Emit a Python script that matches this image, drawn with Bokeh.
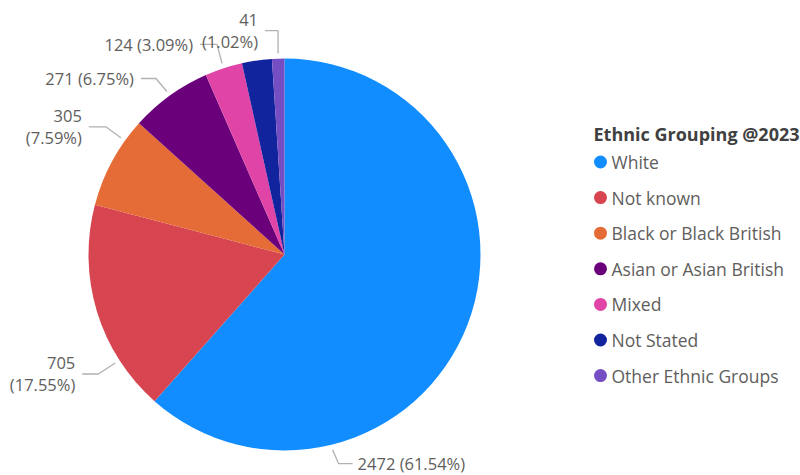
import math
from bokeh.plotting import figure
from bokeh.models import ColumnDataSource, Range1d
from bokeh.core.properties import value
from bokeh.embed import file_html
from bokeh.resources import INLINE

# ---------------- data ----------------
categories = ["White", "Not known", "Black or Black British", "Asian or Asian British",
              "Mixed", "Not Stated", "Other Ethnic Groups"]
counts = [2472, 705, 305, 271, 124, 99, 41]
colors = ["#118DFF", "#D64550", "#E66C37", "#6B007B", "#E044A7", "#12239E", "#744EC2"]
legend_title = "Ethnic Grouping @2023"

# ---------------- layout (screen px, y down) ----------------
W, H = 800, 475
CX, CY, R = 284, 254, 196
FONT = "Open Sans"
LABEL_COLOR = "#605E5C"
LEADER_COLOR = "#B3B0AD"
# per slice: (position within slice, elbow dx, elbow dy, horizontal run, split into two lines) or None
label_layout = [
    (0.75, 6, 14, 14, False),
    (0.25, -17, 11, -16, True),
    (0.76, -15, -11, -17, True),
    (0.50, -11, -13, -15, False),
    (0.50, -5, -19, -17, False),
    None,
    (0.50, 0, -23, -13, True),
]

p = figure(width=W, height=H, output_backend="svg", toolbar_location=None,
           x_range=Range1d(0, W), y_range=Range1d(-H, 0),
           min_border=0, x_axis_location=None, y_axis_location=None)
p.grid.visible = False
p.outline_line_color = None
p.background_fill_color = "white"
p.border_fill_color = "white"

total = sum(counts)
starts, ends, fr0, fr1 = [], [], [], []
cum = 0.0
for c in counts:
    f0 = cum / total
    cum += c
    f1 = cum / total
    fr0.append(f0)
    fr1.append(f1)
    starts.append(math.pi / 2 - 2 * math.pi * f0)
    ends.append(math.pi / 2 - 2 * math.pi * f1)

src = ColumnDataSource(dict(cat=categories, start=starts, end=ends, color=colors))
p.wedge(x=CX, y=-CY, radius=R, start_angle="start", end_angle="end",
        direction="clock", fill_color="color", line_color=None, source=src)

# ---------------- data labels ----------------
lx, ly, tx, ty, tt, ta = [], [], [], [], [], []
for i, lay in enumerate(label_layout):
    if lay is None:
        continue
    pos, edx, edy, run, split = lay
    frac = fr0[i] + pos * (fr1[i] - fr0[i])
    ang = 2 * math.pi * frac
    ax = CX + (R + 5) * math.sin(ang)
    ay = CY - (R + 5) * math.cos(ang)
    ex, ey = ax + edx, ay + edy
    fx = ex + run
    lx.append([ax, ex, fx])
    ly.append([-ay, -ey, -ey])
    pct = counts[i] / total * 100
    s1 = f"{counts[i]}"
    s2 = f"({pct:.2f}%)"
    align = "left" if run > 0 else "right"
    txx = fx + (5 if run > 0 else -7)
    if split:
        for s, dy in ((s1, -10.5), (s2, 10.5)):
            tx.append(txx); ty.append(-(ey + dy)); tt.append(s); ta.append(align)
    else:
        tx.append(txx); ty.append(-ey); tt.append(f"{s1} {s2}"); ta.append(align)

p.multi_line(xs=lx, ys=ly, line_color=LEADER_COLOR, line_width=1.3)
p.text(x="x", y="y", text="t", text_align="a",
       source=ColumnDataSource(dict(x=tx, y=ty, t=tt, a=ta)),
       text_baseline="middle", text_font=value(FONT), text_font_size="16.5px",
       text_color=LABEL_COLOR)

# ---------------- legend ----------------
LEG_X, LEG_Y0, LEG_STEP = 600, 161.5, 35.6
leg_y = [-(LEG_Y0 + k * LEG_STEP) for k in range(len(categories))]
p.scatter(x=[LEG_X] * len(categories), y=leg_y, size=13, marker="circle",
          fill_color=colors, line_color=None)
p.text(x=[LEG_X + 11] * len(categories), y=leg_y, text=categories,
       text_baseline="middle", text_align="left", text_font=value(FONT),
       text_font_size="17.5px", text_color=LABEL_COLOR)
p.text(x=[593], y=[-133], text=[legend_title], text_baseline="middle",
       text_align="left", text_font=value(FONT), text_font_size="18px",
       text_font_style="bold", text_color="#404040")

open("out.html", "w").write(file_html(p, INLINE))
